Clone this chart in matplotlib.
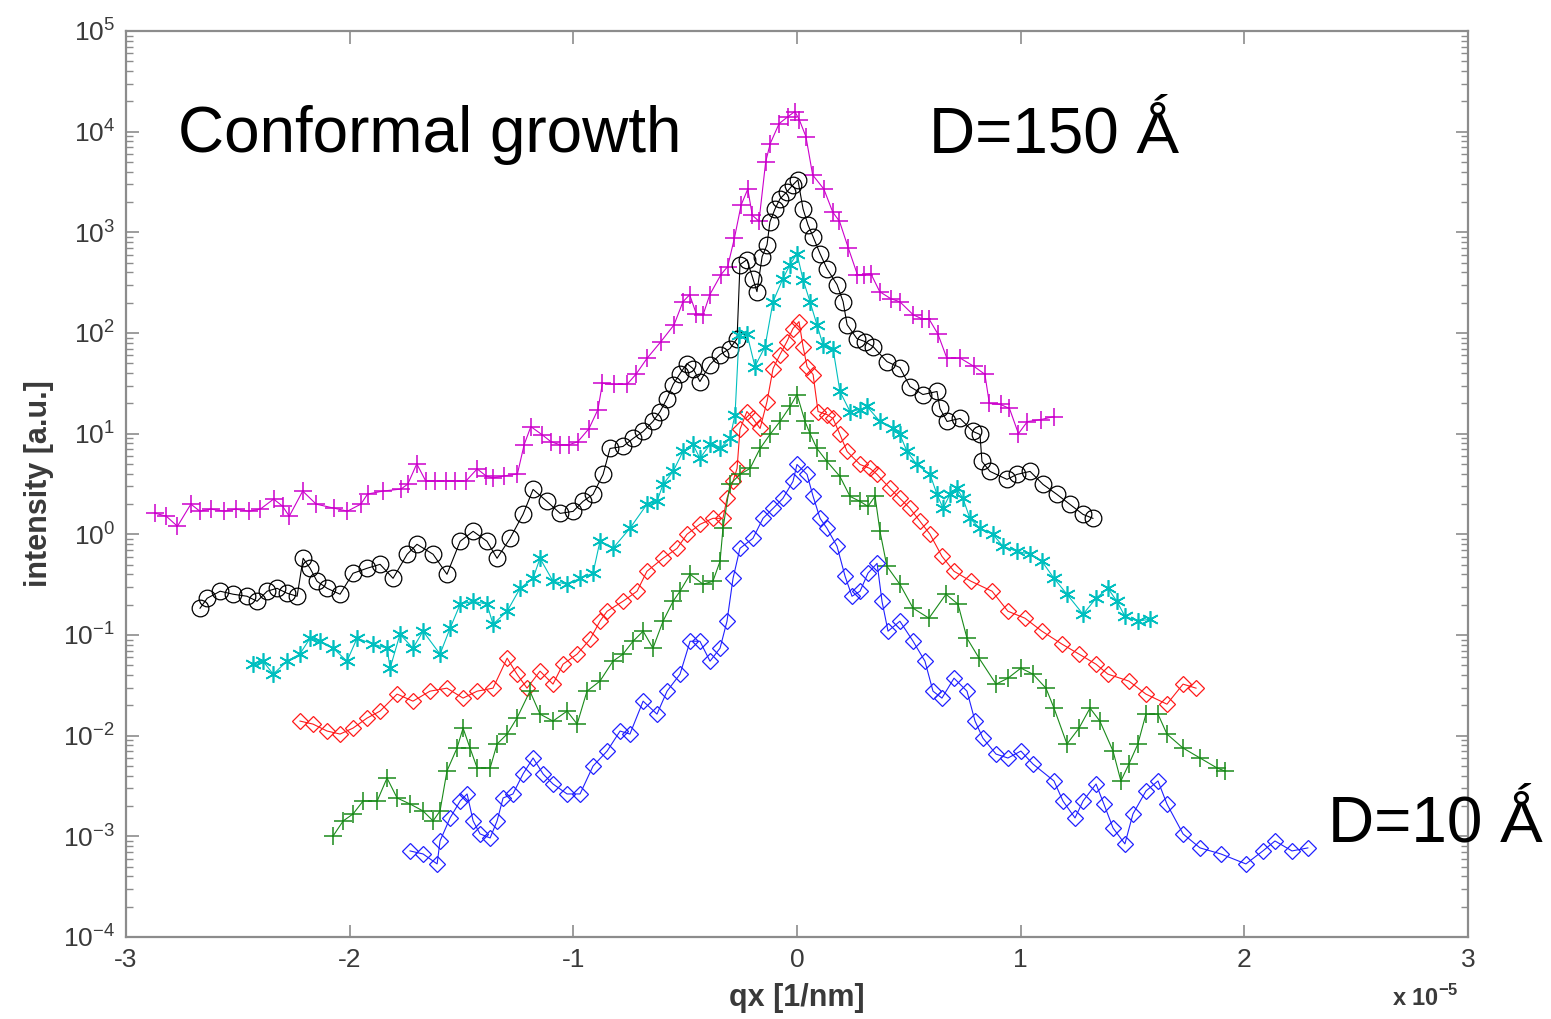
import numpy as np
import matplotlib
matplotlib.use("Agg")
import matplotlib.pyplot as plt
from matplotlib.ticker import LogLocator, NullFormatter, FixedLocator

plt.rcParams['font.family'] = ['Liberation Sans', 'DejaVu Sans']

# ---- data: qx in units of 1e-5 1/nm, intensity stored as log10 values ----
x_mag = [-2.87, -2.82, -2.77, -2.71, -2.67, -2.62, -2.56, -2.51, -2.45, -2.40, -2.34, -2.30, -2.27, -2.21,
         -2.15, -2.07, -2.01, -1.95, -1.92, -1.85, -1.77, -1.74, -1.70, -1.66, -1.62, -1.57, -1.53, -1.48,
         -1.43, -1.39, -1.36, -1.31, -1.25, -1.22, -1.19, -1.14, -1.10, -1.06, -1.02, -0.98, -0.93, -0.89,
         -0.87, -0.82, -0.76, -0.72, -0.67, -0.61, -0.55, -0.51, -0.48, -0.45, -0.42, -0.39, -0.34, -0.31,
         -0.28, -0.25, -0.22, -0.20, -0.17, -0.14, -0.12, -0.08, -0.04, -0.01, 0.01, 0.04, 0.07, 0.12, 0.16,
         0.19, 0.23, 0.27, 0.30, 0.33, 0.37, 0.42, 0.46, 0.52, 0.56, 0.59, 0.63, 0.67, 0.73, 0.79, 0.84,
         0.86, 0.91, 0.95, 0.99, 1.03, 1.09, 1.15]
l_mag = [0.21, 0.18, 0.08, 0.30, 0.23, 0.25, 0.23, 0.25, 0.23, 0.25, 0.35, 0.28, 0.18, 0.43,
         0.30, 0.26, 0.23, 0.30, 0.40, 0.43, 0.45, 0.50, 0.70, 0.53, 0.53, 0.53, 0.53, 0.53,
         0.65, 0.58, 0.56, 0.58, 0.60, 0.89, 1.07, 0.99, 0.92, 0.89, 0.89, 0.92, 1.05, 1.24,
         1.50, 1.49, 1.49, 1.59, 1.75, 1.91, 2.08, 2.31, 2.38, 2.19, 2.18, 2.38, 2.58, 2.66,
         2.94, 3.27, 3.43, 3.17, 3.11, 3.70, 3.88, 4.08, 4.15, 4.20, 4.12, 3.95, 3.57, 3.43, 3.20,
         3.11, 2.84, 2.58, 2.58, 2.59, 2.41, 2.34, 2.31, 2.18, 2.14, 2.14, 1.99, 1.75, 1.75, 1.67, 1.59,
         1.30, 1.29, 1.25, 1.00, 1.12, 1.14, 1.17]

x_blk = [-2.669, -2.637, -2.579, -2.521, -2.459, -2.414, -2.369, -2.325, -2.280, -2.235, -2.208, -2.177,
         -2.146, -2.101, -2.043, -1.985, -1.922, -1.864, -1.806, -1.743, -1.699, -1.627, -1.565, -1.506,
         -1.448, -1.386, -1.341, -1.283, -1.225, -1.180, -1.118, -1.059, -1.001, -0.957, -0.912, -0.867,
         -0.836, -0.778, -0.733, -0.688, -0.644, -0.612, -0.581, -0.554, -0.523, -0.492, -0.465, -0.434,
         -0.389, -0.344, -0.300, -0.268, -0.255, -0.224, -0.197, -0.179, -0.156, -0.134, -0.121, -0.098,
         -0.076, -0.045, -0.018, 0.004, 0.027, 0.049, 0.072, 0.103, 0.134, 0.179, 0.206, 0.224, 0.268,
         0.304, 0.340, 0.402, 0.460, 0.505, 0.563, 0.626, 0.639, 0.671, 0.729, 0.787, 0.818, 0.827, 0.863,
         0.939, 0.983, 1.042, 1.100, 1.162, 1.220, 1.279, 1.323]
l_blk = [-0.734, -0.635, -0.565, -0.595, -0.615, -0.665, -0.565, -0.536, -0.585, -0.615, -0.238, -0.337,
         -0.466, -0.536, -0.595, -0.387, -0.337, -0.298, -0.437, -0.198, -0.099, -0.198, -0.397, -0.069,
         0.030, -0.069, -0.238, -0.040, 0.198, 0.446, 0.327, 0.208, 0.228, 0.327, 0.397, 0.595,
         0.853, 0.873, 0.952, 1.022, 1.121, 1.220, 1.349, 1.488, 1.597, 1.696, 1.647, 1.518,
         1.687, 1.786, 1.845, 1.944, 2.679, 2.728, 2.540, 2.411, 2.758, 2.877, 3.105, 3.234,
         3.333, 3.403, 3.472, 3.522, 3.234, 3.075, 2.956, 2.788, 2.639, 2.480, 2.312, 2.083, 1.944,
         1.915, 1.865, 1.716, 1.657, 1.468, 1.389, 1.419, 1.250, 1.121, 1.151, 1.022, 0.992, 0.724, 0.625,
         0.546, 0.595, 0.625, 0.496, 0.397, 0.298, 0.198, 0.159]

x_cyn = [-2.432, -2.387, -2.342, -2.280, -2.223, -2.177, -2.132, -2.074, -2.012, -1.967, -1.895, -1.833,
         -1.819, -1.775, -1.717, -1.672, -1.596, -1.551, -1.506, -1.448, -1.386, -1.359, -1.296, -1.238,
         -1.180, -1.149, -1.091, -1.028, -0.970, -0.912, -0.881, -0.823, -0.747, -0.671, -0.626, -0.599,
         -0.554, -0.510, -0.465, -0.434, -0.389, -0.344, -0.300, -0.277, -0.259, -0.224, -0.188, -0.143,
         -0.107, -0.063, -0.031, 0.000, 0.027, 0.058, 0.089, 0.116, 0.161, 0.192, 0.237, 0.282, 0.313,
         0.371, 0.429, 0.460, 0.492, 0.536, 0.595, 0.626, 0.653, 0.684, 0.715, 0.742, 0.773, 0.818, 0.876,
         0.921, 0.983, 1.042, 1.095, 1.149, 1.207, 1.279, 1.337, 1.390, 1.430, 1.466, 1.524, 1.578]
l_cyn = [-1.290, -1.260, -1.389, -1.260, -1.190, -1.032, -1.062, -1.131, -1.260, -1.032, -1.091, -1.131,
         -1.329, -0.992, -1.131, -0.962, -1.190, -0.933, -0.694, -0.665, -0.694, -0.893, -0.764, -0.536,
         -0.437, -0.238, -0.466, -0.496, -0.437, -0.387, -0.069, -0.139, 0.060, 0.298, 0.327, 0.496,
         0.625, 0.823, 0.893, 0.754, 0.893, 0.853, 0.952, 1.190, 1.984, 1.994, 1.667, 1.865,
         2.312, 2.540, 2.679, 2.788, 2.530, 2.312, 2.083, 1.885, 1.845, 1.419, 1.220, 1.240, 1.270,
         1.121, 1.052, 0.992, 0.823, 0.694, 0.595, 0.397, 0.258, 0.397, 0.456, 0.357, 0.159, 0.060, 0.000,
         -0.119, -0.169, -0.198, -0.268, -0.437, -0.595, -0.794, -0.635, -0.536, -0.665, -0.813, -0.863, -0.843]

x_red = [-2.222, -2.164, -2.101, -2.043, -1.985, -1.922, -1.864, -1.788, -1.717, -1.641, -1.565, -1.493,
         -1.430, -1.359, -1.296, -1.252, -1.207, -1.149, -1.091, -1.046, -0.983, -0.925, -0.881, -0.849,
         -0.778, -0.715, -0.671, -0.599, -0.536, -0.492, -0.434, -0.376, -0.331, -0.313, -0.286, -0.268,
         -0.255, -0.224, -0.197, -0.165, -0.134, -0.107, -0.076, -0.045, -0.018, 0.009, 0.027, 0.045, 0.072,
         0.094, 0.134, 0.161, 0.192, 0.224, 0.282, 0.326, 0.358, 0.416, 0.460, 0.505, 0.550, 0.595, 0.648,
         0.702, 0.778, 0.872, 0.943, 1.019, 1.095, 1.185, 1.261, 1.337, 1.390, 1.484, 1.560, 1.654, 1.726,
         1.784]
l_red = [-1.855, -1.885, -1.954, -1.984, -1.925, -1.825, -1.756, -1.587, -1.657, -1.558, -1.528, -1.627,
         -1.558, -1.528, -1.230, -1.389, -1.528, -1.359, -1.488, -1.290, -1.190, -1.042, -0.863, -0.764,
         -0.665, -0.565, -0.367, -0.238, -0.139, 0.000, 0.099, 0.159, 0.159, 0.357, 0.526, 0.655,
         1.042, 1.220, 1.151, 1.052, 1.319, 1.647, 1.786, 1.915, 2.044, 2.113, 1.865, 1.667, 1.587,
         1.220, 1.190, 1.151, 0.992, 0.823, 0.694, 0.655, 0.595, 0.456, 0.357, 0.258, 0.129, 0.000, -0.218,
         -0.367, -0.466, -0.565, -0.764, -0.833, -0.962, -1.091, -1.190, -1.290, -1.389, -1.458, -1.587,
         -1.687, -1.488, -1.528]

x_grn = [-2.074, -2.029, -1.985, -1.940, -1.877, -1.833, -1.788, -1.730, -1.672, -1.627, -1.596, -1.565,
         -1.520, -1.493, -1.462, -1.430, -1.372, -1.341, -1.296, -1.252, -1.194, -1.149, -1.091, -1.028,
         -0.983, -0.939, -0.881, -0.823, -0.778, -0.733, -0.688, -0.644, -0.599, -0.554, -0.523, -0.478,
         -0.420, -0.376, -0.344, -0.331, -0.300, -0.255, -0.210, -0.165, -0.121, -0.076, -0.031, 0.000,
         0.036, 0.058, 0.089, 0.134, 0.192, 0.237, 0.282, 0.317, 0.349, 0.371, 0.402, 0.460, 0.519, 0.590,
         0.666, 0.720, 0.760, 0.814, 0.890, 0.943, 1.001, 1.055, 1.113, 1.149, 1.207, 1.261, 1.310, 1.354,
         1.413, 1.448, 1.484, 1.524, 1.560, 1.614, 1.654, 1.726, 1.802, 1.878, 1.913]
l_grn = [-2.996, -2.847, -2.778, -2.649, -2.649, -2.421, -2.619, -2.679, -2.748, -2.847, -2.748, -2.351,
         -2.123, -1.925, -2.123, -2.321, -2.321, -2.083, -1.984, -1.825, -1.558, -1.786, -1.855, -1.756,
         -1.885, -1.558, -1.458, -1.260, -1.190, -1.062, -0.962, -1.131, -0.863, -0.665, -0.565, -0.397,
         -0.496, -0.466, -0.268, 0.060, 0.496, 0.595, 0.655, 0.853, 0.992, 1.121, 1.270, 1.389,
         1.121, 1.002, 0.853, 0.724, 0.575, 0.377, 0.327, 0.278, 0.377, 0.030, -0.317, -0.496, -0.734, -0.833,
         -0.595, -0.694, -1.032, -1.230, -1.488, -1.429, -1.329, -1.389, -1.528, -1.726, -2.083, -1.925,
         -1.726, -1.855, -2.153, -2.450, -2.282, -2.083, -1.786, -1.786, -1.984, -2.123, -2.222, -2.321, -2.351]

x_blu = [-1.730, -1.672, -1.609, -1.596, -1.551, -1.506, -1.475, -1.448, -1.417, -1.372, -1.341, -1.314,
         -1.270, -1.225, -1.180, -1.135, -1.091, -1.028, -0.970, -0.912, -0.849, -0.791, -0.747, -0.688,
         -0.626, -0.581, -0.523, -0.478, -0.434, -0.389, -0.344, -0.313, -0.286, -0.255, -0.197, -0.152,
         -0.107, -0.063, -0.018, 0.000, 0.045, 0.072, 0.103, 0.134, 0.179, 0.215, 0.246, 0.282, 0.317, 0.358,
         0.380, 0.407, 0.460, 0.519, 0.572, 0.608, 0.648, 0.702, 0.760, 0.796, 0.831, 0.890, 0.943, 1.001,
         1.055, 1.149, 1.189, 1.243, 1.279, 1.337, 1.372, 1.413, 1.466, 1.502, 1.560, 1.614, 1.654, 1.726,
         1.802, 1.895, 2.007, 2.083, 2.137, 2.213, 2.284]
l_blu = [-3.145, -3.175, -3.274, -3.046, -2.817, -2.649, -2.579, -2.847, -2.976, -3.016, -2.847, -2.619,
         -2.579, -2.381, -2.222, -2.381, -2.480, -2.579, -2.579, -2.302, -2.153, -1.954, -1.984, -1.657,
         -1.786, -1.558, -1.389, -1.062, -1.062, -1.260, -1.131, -0.863, -0.437, -0.139, -0.040, 0.159,
         0.258, 0.357, 0.526, 0.694, 0.595, 0.377, 0.159, 0.060, -0.119, -0.417, -0.615, -0.565, -0.387, -0.288,
         -0.665, -0.962, -0.863, -1.062, -1.260, -1.558, -1.627, -1.429, -1.558, -1.855, -2.024, -2.183, -2.222,
         -2.153, -2.282, -2.450, -2.649, -2.817, -2.649, -2.480, -2.679, -2.917, -3.075, -2.778, -2.550, -2.450,
         -2.679, -2.976, -3.115, -3.175, -3.274, -3.145, -3.046, -3.145, -3.115]

x_ticks = [-3, -2, -1, 0, 1, 2, 3]
x_ticklabels = ['-3', '-2', '-1', '0', '1', '2', '3']

# ---- figure ----
W, H = 1551, 1019
fig = plt.figure(figsize=(W / 100, H / 100), dpi=100)
ax = fig.add_axes([126 / W, 1 - 937 / H, (1468 - 126) / W, (937 - 31) / H])

asterisk = (6, 2, 0)
series = [
    (x_mag, l_mag, '#cc00cc', '+', dict(markersize=13, markeredgewidth=1.1)),
    (x_blk, l_blk, '#000000', 'o', dict(markersize=12, markeredgewidth=0.9, markerfacecolor='none')),
    (x_cyn, l_cyn, '#00bfbf', asterisk, dict(markersize=12, markeredgewidth=1.2)),
    (x_red, l_red, '#ff1a1a', 'D', dict(markersize=8, markeredgewidth=0.9, markerfacecolor='none')),
    (x_grn, l_grn, '#1a8a1a', '+', dict(markersize=13, markeredgewidth=1.1)),
    (x_blu, l_blu, '#2020ff', 'D', dict(markersize=8, markeredgewidth=0.9, markerfacecolor='none')),
]
for xs, ls, col, mk, kw in series:
    ax.plot(xs, 10 ** np.array(ls), color=col, marker=mk, linewidth=0.8, **kw)

ax.set_yscale('log')
ax.set_xlim(-3, 3)
ax.set_ylim(1e-4, 1e5)

spine_col = '#8c8c8c'
for s in ax.spines.values():
    s.set_color(spine_col)
    s.set_linewidth(1.6)

ax.xaxis.set_major_locator(FixedLocator(x_ticks))
ax.set_xticklabels(x_ticklabels)
ax.yaxis.set_major_locator(LogLocator(base=10, numticks=20))
ax.yaxis.set_minor_locator(LogLocator(base=10, subs=np.arange(2, 10), numticks=20))
ax.yaxis.set_minor_formatter(NullFormatter())
ax.tick_params(axis='both', which='both', direction='in', top=True, right=True, color=spine_col)
ax.tick_params(axis='both', which='major', length=9, width=1.2, labelsize=19, labelcolor='#3a3a3a', pad=8)
ax.tick_params(axis='both', which='minor', length=5, width=1.0)

ax.set_xlabel('qx [1/nm]', fontsize=22, color='#3a3a3a', fontweight='bold', labelpad=8)
ax.set_ylabel('intensity [a.u.]', fontsize=22, color='#3a3a3a', fontweight='bold', labelpad=6)

fig.text(1425 / W, 1 - 998 / H, r'x 10$^{\mathdefault{-5}}$', fontsize=17, color='#3a3a3a',
         ha='center', va='center', fontweight='bold')

ax.text(0.039, 0.885, 'Conformal growth', transform=ax.transAxes, fontsize=46,
        ha='left', va='center', color='black')
ax.text(0.598, 0.885, 'D=150 Ǻ', transform=ax.transAxes, fontsize=46,
        ha='left', va='center', color='black')
fig.text(1328 / W, 1 - 825 / H, 'D=10 Ǻ', fontsize=46, ha='left', va='center', color='black')

fig.savefig('out.png', dpi=100)
